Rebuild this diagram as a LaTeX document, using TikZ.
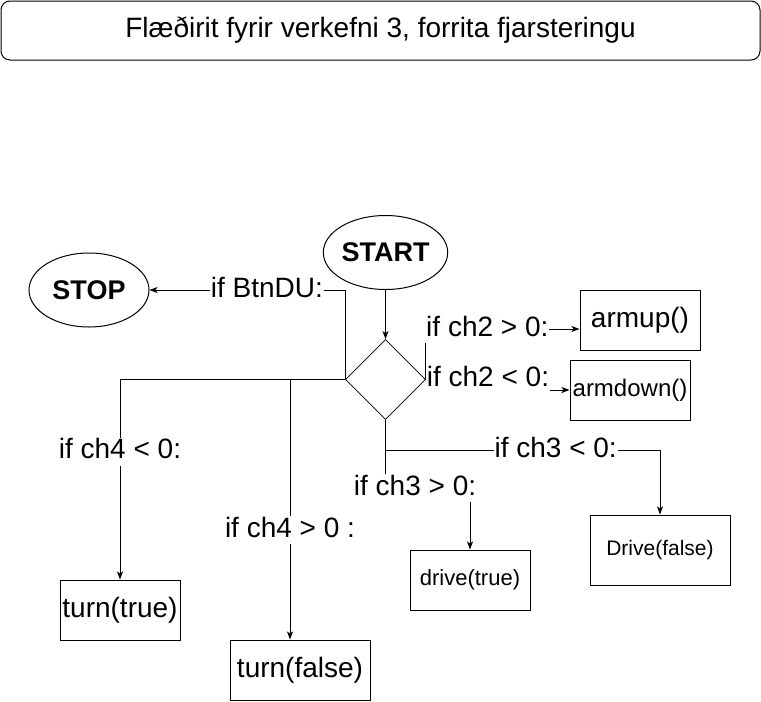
\documentclass[tikz,border=0pt]{standalone}
\usepackage{fontspec}
\setmainfont{Liberation Sans}
\usetikzlibrary{shapes.geometric,arrows.meta}
\begin{document}
\begin{tikzpicture}[x=1pt,y=-1pt,
  box/.style={draw,line width=1pt,inner sep=0pt,font=\fontsize{28}{32}\selectfont},
  ell/.style={draw,ellipse,line width=1pt,inner sep=0pt,minimum width=120pt,minimum height=74pt,font=\fontsize{27}{30}\selectfont\bfseries},
  lbl/.style={fill=white,inner sep=1pt,font=\fontsize{28}{32}\selectfont,text height=20pt,text depth=6pt},
  conn/.style={line width=1pt},
  arr/.style={conn,-{Stealth[length=8pt,width=6pt,inset=2pt]}}]
\useasboundingbox (0,0) rectangle (761,702);

\node[box,rounded corners=9pt,minimum width=759pt,minimum height=59pt] (title) at (380.5,30.5) {Flæðirit fyrir verkefni 3, forrita fjarsteringu};

\node[ell] (start) at (385.5,252.5) {START};
\node[ell] (stop) at (89,290) {STOP};
\node[draw,diamond,line width=0.8pt,inner sep=0pt,minimum width=80pt,minimum height=80pt] (dia) at (385.5,379.5) {};

\node[box,minimum width=120pt,minimum height=60pt] (armup) at (640,320) {armup()};
\node[box,minimum width=120pt,minimum height=60pt,font=\fontsize{24}{28}\selectfont] (armdown) at (630,390) {armdown()};
\node[box,minimum width=140pt,minimum height=70pt,font=\fontsize{21}{25}\selectfont] (drivefalse) at (660,550) {Drive(false)};
\node[box,minimum width=120pt,minimum height=60pt,font=\fontsize{22}{26}\selectfont] (drivetrue) at (470,580) {drive(true)};
\node[box,minimum width=120pt,minimum height=60pt] (turntrue) at (120,610) {turn(true)};
\node[box,minimum width=140pt,minimum height=60pt] (turnfalse) at (300,670) {turn(false)};

\draw[arr] (start) -- (dia.north);
\draw[arr] (dia.west) |- node[lbl,pos=0.7] {if BtnDU:} (stop.east);
\draw[arr] (dia.east) |- node[lbl,pos=0.7] {if ch2 > 0:} ([yshift=-9pt]armup.west);
\draw[arr] (dia.east) -- node[lbl,pos=0.69] {if ch2 < 0:} ++(90,0) |- (armdown.west);
\draw[arr] (dia.south) -- ++(0,31) -| node[lbl,pos=0.31] {if ch3 < 0:} (drivefalse.north);
\draw[arr] (dia.south) -- ++(0,68.5) -| node[lbl,pos=0.175] {if ch3 > 0:} (drivetrue.north);
\draw[arr] (dia.west) -| node[lbl,pos=0.68] {if ch4 < 0:} (turntrue.north);
\draw[arr] (dia.west) -| node[lbl,pos=0.79] {if ch4 > 0 :} ([xshift=-10pt]turnfalse.north);
\end{tikzpicture}
\end{document}
